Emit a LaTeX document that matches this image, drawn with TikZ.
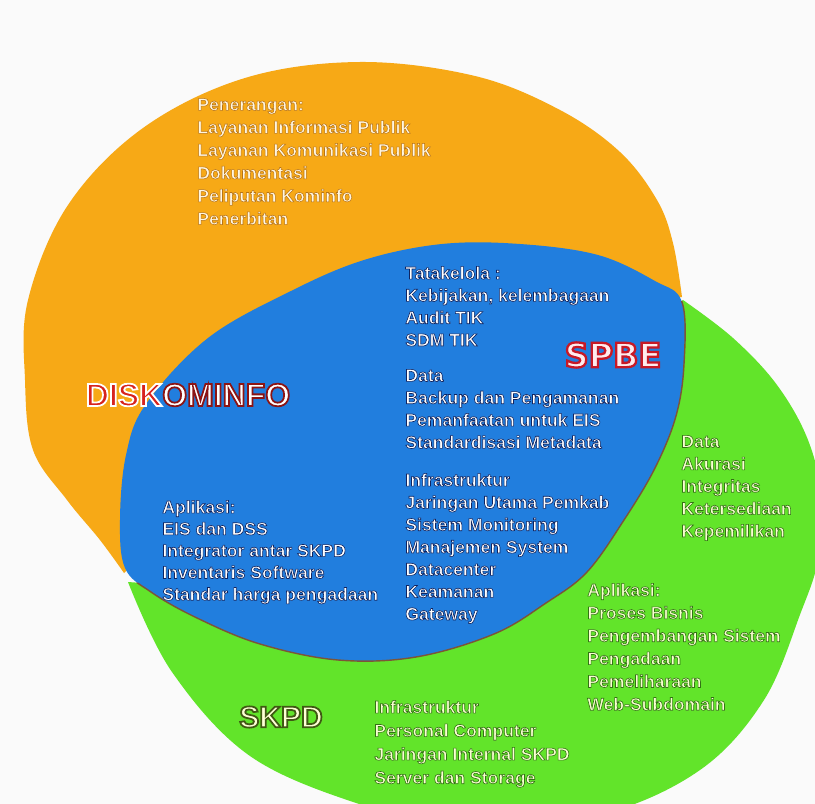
\documentclass[tikz,border=0pt]{standalone}
\usepackage{fontspec}
\setmainfont{Liberation Sans}
\newfontfamily\spbefont{DejaVu Sans}
\definecolor{bgc}{RGB}{250,250,250}
\definecolor{vorange}{RGB}{247,169,22}
\definecolor{vgreen}{RGB}{98,228,42}
\definecolor{vblue}{RGB}{33,126,222}
\definecolor{vedge}{RGB}{125,85,55}
\definecolor{greentext}{RGB}{250,255,210}
\definecolor{orangetext}{RGB}{255,246,225}
\definecolor{skpdtext}{RGB}{255,255,215}
\definecolor{spbetext}{RGB}{255,236,238}
\definecolor{diskred}{RGB}{215,35,30}
\newcommand\outltext[3]{\special{pdf:literal direct #2 w #1 RG 2 Tr}#3\special{pdf:literal direct 0 Tr}}
\tikzset{
  lbl/.style={anchor=north west, inner sep=0pt, align=left},
  bluetxt/.style={lbl, text=white, font=\bfseries\fontsize{10}{12.7}\selectfont},
  oratxt/.style={lbl, text=orangetext, font=\bfseries\fontsize{10}{13}\selectfont},
  grntxt/.style={lbl, text=greentext, font=\bfseries\fontsize{10}{13}\selectfont},
  title/.style={anchor=center, inner sep=0pt},
}
\begin{document}
\begin{tikzpicture}[x=0.02cm,y=-0.02cm]
\useasboundingbox (0,0) rectangle (815,804);
\fill[bgc] (0,0) rectangle (815,804);
\clip (0,0) rectangle (815,804);
% orange shape
\fill[vorange] plot[smooth, tension=0.6] coordinates {(682,297) (673,243) (657,200) (620,152) (560,110) (475,76) (360,62) (245,78) (143,128) (68,205) (28,300) (25,380) (33,450) (67,500) (100,540) (124,573)}
  -- (200,500) -- (450,350) -- (640,300) -- cycle;
% green shape
\fill[vgreen] plot[smooth, tension=0.6] coordinates {(683,300) (733,338) (777,385) (808,440) (822,500) (818,560) (801,612) (764,700) (700,770) (600,815) (470,830) (362,805) (250,756) (172,672) (128,582)}
  -- (170,585) -- (400,450) -- (640,330) -- cycle;
% blue lens
\fill[vblue] plot[smooth cycle, tension=0.6] coordinates {(120,520) (126,455) (146,404) (208,338) (291,291) (364,260) (442,244) (520,244) (598,255) (655,281) (682,302) (684,364) (676,416) (655,468) (624,520) (587,572) (546,603) (494,634) (416,657) (338,660) (260,644) (197,618) (151,592) (125,568)};
% lens outline, visible only against the green
\begin{scope}
\clip plot[smooth, tension=0.6] coordinates {(683,300) (733,338) (777,385) (808,440) (822,500) (818,560) (801,612) (764,700) (700,770) (600,815) (470,830) (362,805) (250,756) (172,672) (128,582)}
  -- (170,585) -- (400,450) -- (640,330) -- cycle;
\draw[vedge, line width=0.8pt] plot[smooth cycle, tension=0.6] coordinates {(120,520) (126,455) (146,404) (208,338) (291,291) (364,260) (442,244) (520,244) (598,255) (655,281) (682,302) (684,364) (676,416) (655,468) (624,520) (587,572) (546,603) (494,634) (416,657) (338,660) (260,644) (197,618) (151,592) (125,568)};
\end{scope}

% orange texts
\node[oratxt] (otxt) at (197,98) {\outltext{0.72 0.45 0.08}{0.3}{Penerangan:\\Layanan Informasi Publik\\Layanan Komunikasi Publik\\Dokumentasi\\Peliputan Kominfo\\Penerbitan}};

% blue texts
\node[bluetxt] (btata) at (405,266) {\outltext{0.06 0.14 0.38}{0.35}{Tatakelola :\\Kebijakan, kelembagaan\\Audit TIK\\SDM TIK}};
\node[bluetxt] (bdata) at (405,369) {\outltext{0.06 0.14 0.38}{0.35}{Data\\Backup dan Pengamanan\\Pemanfaatan untuk EIS\\Standardisasi Metadata}};
\node[bluetxt] (binfra) at (405,473) {\outltext{0.06 0.14 0.38}{0.35}{Infrastruktur\\Jaringan Utama Pemkab\\Sistem Monitoring\\Manajemen System\\Datacenter\\Keamanan\\Gateway}};
\node[bluetxt, font=\bfseries\fontsize{10}{12.4}\selectfont] (bapl) at (162,500) {\outltext{0.06 0.14 0.38}{0.35}{Aplikasi:\\EIS dan DSS\\Integrator antar SKPD\\Inventaris Software\\Standar harga pengadaan}};

% green texts
\node[grntxt, font=\bfseries\fontsize{10}{12.75}\selectfont] (gdata) at (681,435) {\outltext{0.2 0.45 0.08}{0.35}{Data\\Akurasi\\Integritas\\Ketersediaan\\Kepemilikan}};
\node[grntxt] (gapl) at (587,583) {\outltext{0.2 0.45 0.08}{0.35}{Aplikasi:\\Proses Bisnis\\Pengembangan Sistem\\Pengadaan\\Pemeliharaan\\Web-Subdomain}};
\node[grntxt, font=\bfseries\fontsize{10}{13.4}\selectfont] (ginfra) at (374,700) {\outltext{0.2 0.45 0.08}{0.35}{Infrastruktur\\Personal Computer\\Jaringan Internal SKPD\\Server dan Storage}};

% titles
\node[title, font=\bfseries\fontsize{18.2}{20}\selectfont] (disk) at (188,395) {{\color{diskred}\outltext{1 1 1}{1}{DISK}}{\color{white}\outltext{0.55 0.08 0.08}{1}{OMINFO}}};
\node[title, font=\spbefont\bfseries\fontsize{19}{21}\selectfont, text=spbetext] (spbe) at (613,355) {\outltext{0.78 0.1 0.15}{1.3}{SPBE}};
\node[title, font=\bfseries\fontsize{17.1}{19}\selectfont, text=skpdtext] (skpd) at (281,717) {\outltext{0.25 0.35 0.08}{1}{SKPD}};
\end{tikzpicture}
\end{document}
